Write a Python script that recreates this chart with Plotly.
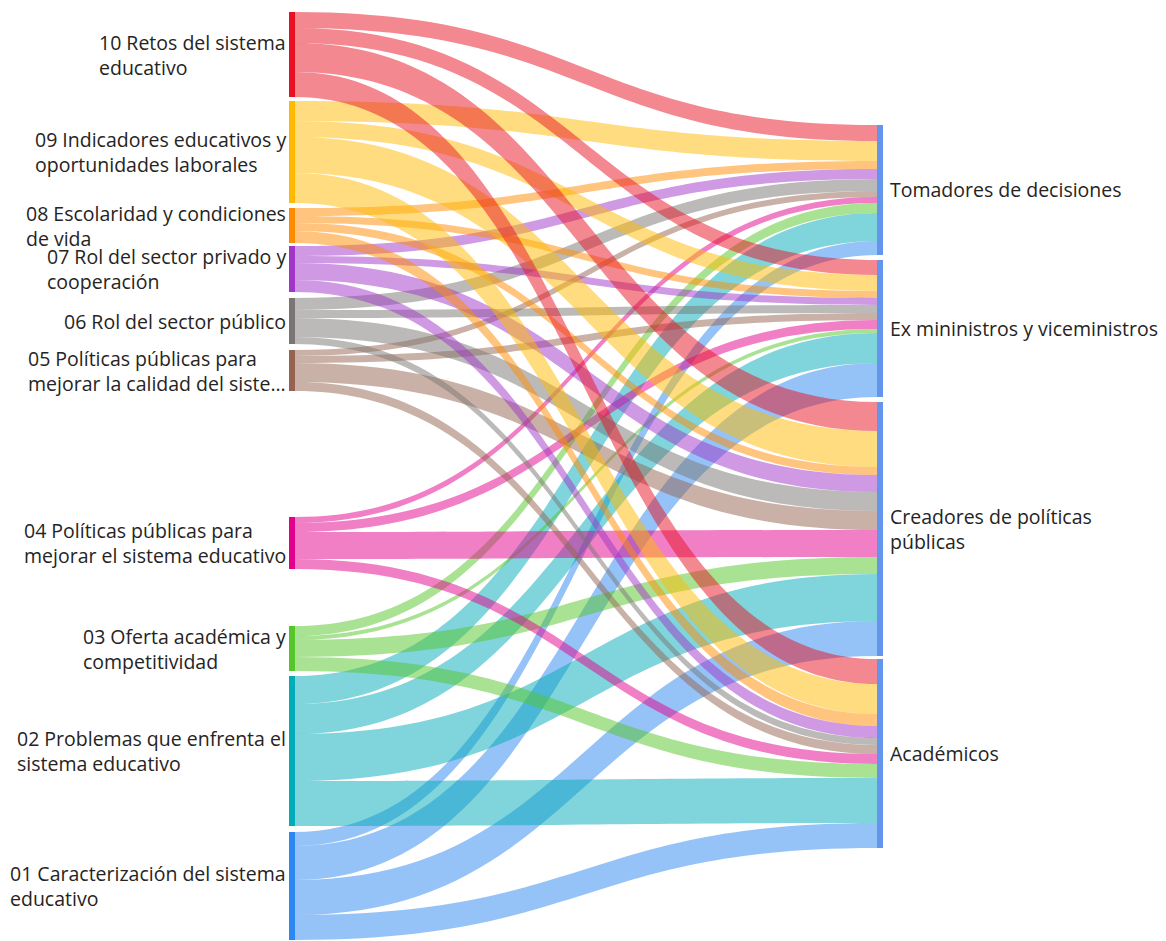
# Sankey: temas de las entrevistas por tipo de actor
import plotly.graph_objects as go

# ---- data ----
temas = [
    "10 Retos del sistema<br>educativo",
    "09 Indicadores educativos y<br>oportunidades laborales",
    "08 Escolaridad y condiciones<br>de vida",
    "07 Rol del sector privado y<br>cooperación",
    "06 Rol del sector público",
    "05 Políticas públicas para<br>mejorar la calidad del siste...",
    "04 Políticas públicas para<br>mejorar el sistema educativo",
    "03 Oferta académica y<br>competitividad",
    "02 Problemas que enfrenta el<br>sistema educativo",
    "01 Caracterización del sistema<br>educativo",
]
perfiles = [
    "Tomadores de decisiones",
    "Ex mininistros y viceministros",
    "Creadores de políticas<br>públicas",
    "Académicos",
]

# references per tema (same order as temas) for each perfil
tomadores = [16, 20, 8, 10, 12, 6, 6, 10, 28, 14]
ex_ministros = [15, 16, 7, 7, 8, 7, 9, 4, 30, 34]
creadores = [29, 36, 8, 17, 19, 19, 27, 17, 47, 35]
academicos = [25, 30, 12, 12, 7, 9, 10, 14, 45, 25]

# ---- style ----
tema_colors = ["#E81123", "#FFB900", "#FF8C00", "#A035C8", "#7A7574",
               "#956350", "#E3008C", "#55C62A", "#00ACB8", "#2B88F0"]
perfil_color = "#6495ED"
font = "Open Sans"

# the html page puts an 8px body margin around the figure
OFF = 8
W, H = 1166 - OFF, 941 - OFF

# layout of the columns (page pixels)
left_x, right_x = 292, 880
left_top, left_gaps = 12, [4, 5, 3, 6, 6, 126, 57, 5, 6]
right_top, right_gaps = 125, [5, 5, 3]


def hex_rgba(h, a):
    h = h.lstrip("#")
    return "rgba({},{},{},{})".format(int(h[0:2], 16), int(h[2:4], 16), int(h[4:6], 16), a)


def centers(sizes, top, gaps, ky):
    # centre of each node, top to bottom, in figure pixels
    out, y = [], top - OFF
    for i, s in enumerate(sizes):
        out.append(y + s * ky / 2)
        y += s * ky + (gaps[i] if i < len(gaps) else 0)
    return out


matrix = [tomadores, ex_ministros, creadores, academicos]
n = len(temas)
src, tgt, val, lcol = [], [], [], []
for j, serie in enumerate(matrix):
    for i, v in enumerate(serie):
        src.append(i)
        tgt.append(n + j)
        val.append(v)
        lcol.append(hex_rgba(tema_colors[i], 0.5))

left_sizes = [sum(m[i] for m in matrix) for i in range(n)]
right_sizes = [sum(m) for m in matrix]
total = sum(left_sizes)

# node padding chosen so one unit is one pixel tall
ky = 1.0
pad = (H - total * ky) / (n - 1)

yl = centers(left_sizes, left_top, left_gaps, ky)
yr = centers(right_sizes, right_top, right_gaps, ky)

node_x = [(left_x - OFF) / W] * n + [(right_x - OFF) / W] * len(perfiles)
node_y = [y / H for y in yl + yr]

fig = go.Figure(go.Sankey(
    arrangement="fixed",
    node=dict(
        label=[t.replace("<br>", " ") for t in temas + perfiles],
        color=tema_colors + [perfil_color] * len(perfiles),
        x=node_x,
        y=node_y,
        pad=pad,
        thickness=6,
        line=dict(width=0),
    ),
    link=dict(source=src, target=tgt, value=val, color=lcol),
    textfont=dict(color="rgba(0,0,0,0)", size=1),
))

# labels outside the nodes, as in the original
for t, y in zip(temas, yl):
    fig.add_annotation(x=(left_x - OFF - 4) / W, y=1 - y / H, xref="paper", yref="paper",
                       text=t, showarrow=False, xanchor="right", yanchor="middle", align="left")
for p, y in zip(perfiles, yr):
    fig.add_annotation(x=(right_x - OFF + 8) / W, y=1 - y / H, xref="paper", yref="paper",
                       text=p, showarrow=False, xanchor="left", yanchor="middle", align="left")

fig.update_layout(
    width=W, height=H,
    margin=dict(l=0, r=0, t=0, b=0),
    paper_bgcolor="white",
    font=dict(family=font, size=19.5, color="#252423"),
)

fig.write_html("out.html")
